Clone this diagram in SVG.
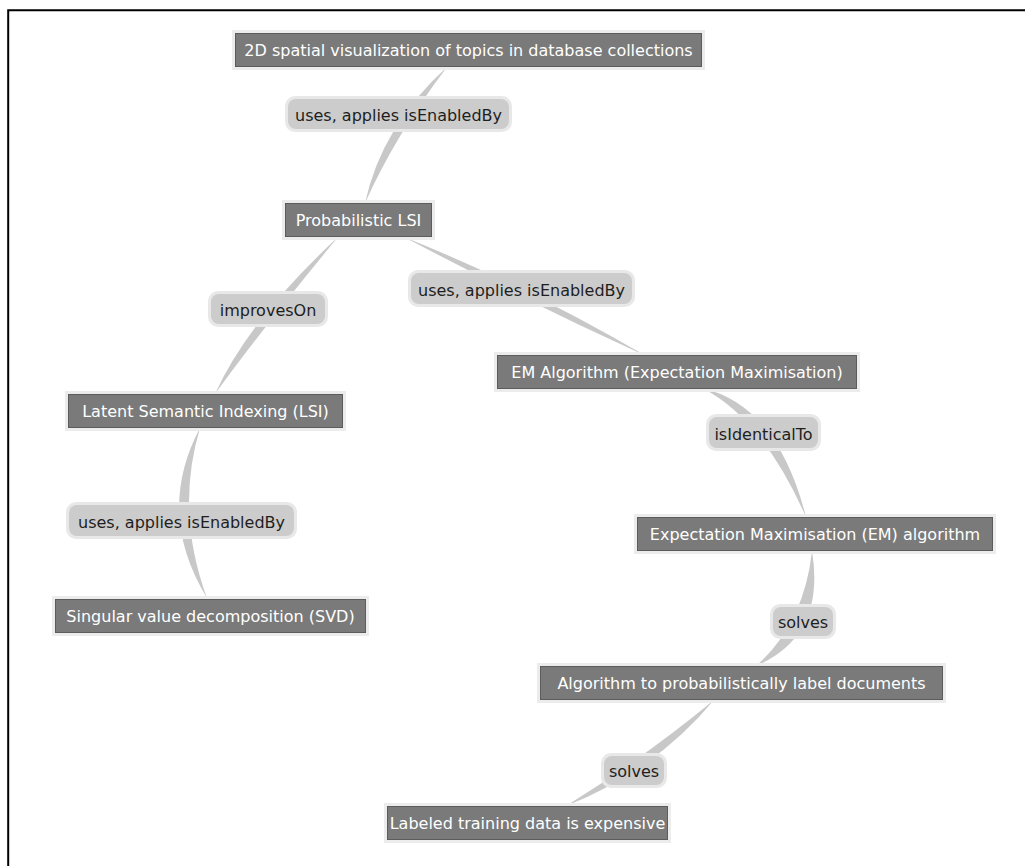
<svg xmlns="http://www.w3.org/2000/svg" width="1025" height="866" viewBox="0 0 1025 866">
  <style>
    .edge { fill: #c8c8c8; }
    .halo { fill: #ececec; }
    .box { fill: #7a7a7a; stroke: #5c5c5c; stroke-width: 1; }
    .ntext { fill: #ffffff; font-family: "DejaVu Sans", Verdana, sans-serif; font-size: 16px; text-anchor: middle; }
    .lhalo { fill: #e8e8e8; }
    .lbox { fill: #bcbcbc; fill-opacity: 0.62; }
    .ltext { fill: #1e1e1e; font-family: "DejaVu Sans", Verdana, sans-serif; font-size: 16px; text-anchor: middle; }
  </style>

  <rect width="1025" height="866" fill="#ffffff"/>
  <!-- frame: top and left rules only -->
  <path d="M8.2 866 V10.3 H1025" fill="none" stroke="#000" stroke-width="2"/>

  <!-- connectors: tapered lens-shaped bands -->
  <g id="connectors">
    <path class="edge" d="M447 67 Q382 125.8 365 203 Q396 134.2 447 67 Z"/>
    <path class="edge" d="M338 237 Q248.7 320 215 394 Q261.3 330 338 237 Z"/>
    <path class="edge" d="M200 428 Q155 512.5 207 598 Q175 511.5 200 428 Z"/>
    <path class="edge" d="M404 237 Q522 299.3 646 356 Q528 286.7 404 237 Z"/>
    <path class="edge" d="M702 388 Q762.2 418.3 806 517 Q777.8 405.7 702 388 Z"/>
    <path class="edge" d="M812 551 Q804 624 756 666 Q826 636 812 551 Z"/>
    <path class="edge" d="M714 700 Q645 757 566 806 Q655 771 714 700 Z"/>
  </g>

  <!-- connector labels -->
  <g id="label-uses-1">
    <rect class="lhalo" x="285" y="96" width="227" height="36" rx="10"/>
    <rect class="lbox" x="288" y="99" width="221" height="30" rx="8"/>
    <text class="ltext" x="398.5" y="121">uses, applies isEnabledBy</text>
  </g>
  <g id="label-improvesOn">
    <rect class="lhalo" x="208" y="291" width="120" height="36" rx="10"/>
    <rect class="lbox" x="211" y="294" width="114" height="30" rx="8"/>
    <text class="ltext" x="268" y="315.5">improvesOn</text>
  </g>
  <g id="label-uses-2">
    <rect class="lhalo" x="408" y="270" width="227" height="37" rx="10"/>
    <rect class="lbox" x="411" y="273" width="221" height="31" rx="8"/>
    <text class="ltext" x="521.5" y="295.5">uses, applies isEnabledBy</text>
  </g>
  <g id="label-uses-3">
    <rect class="lhalo" x="66" y="502" width="231" height="37" rx="10"/>
    <rect class="lbox" x="69" y="505" width="225" height="31" rx="8"/>
    <text class="ltext" x="181.5" y="528">uses, applies isEnabledBy</text>
  </g>
  <g id="label-isIdenticalTo">
    <rect class="lhalo" x="706" y="414" width="115" height="37" rx="10"/>
    <rect class="lbox" x="709" y="417" width="109" height="31" rx="8"/>
    <text class="ltext" x="763.5" y="439.5">isIdenticalTo</text>
  </g>
  <g id="label-solves-1">
    <rect class="lhalo" x="770" y="604" width="66" height="35" rx="10"/>
    <rect class="lbox" x="773" y="607" width="60" height="29" rx="8"/>
    <text class="ltext" x="803" y="628">solves</text>
  </g>
  <g id="label-solves-2">
    <rect class="lhalo" x="601" y="753" width="66" height="35" rx="10"/>
    <rect class="lbox" x="604" y="756" width="60" height="29" rx="8"/>
    <text class="ltext" x="634" y="777">solves</text>
  </g>

  <!-- nodes -->
  <g id="node-2d-visualization">
    <rect class="halo" x="232" y="30" width="473" height="40"/>
    <rect class="box" x="235.5" y="33.5" width="466" height="33"/>
    <text class="ntext" x="468.5" y="56">2D spatial visualization of topics in database collections</text>
  </g>
  <g id="node-plsi">
    <rect class="halo" x="282" y="200" width="153" height="40"/>
    <rect class="box" x="285.5" y="203.5" width="146" height="33"/>
    <text class="ntext" x="358.5" y="226">Probabilistic LSI</text>
  </g>
  <g id="node-lsi">
    <rect class="halo" x="65" y="391" width="281" height="40"/>
    <rect class="box" x="68.5" y="394.5" width="274" height="33"/>
    <text class="ntext" x="205.5" y="417">Latent Semantic Indexing (LSI)</text>
  </g>
  <g id="node-svd">
    <rect class="halo" x="52" y="596" width="317" height="40"/>
    <rect class="box" x="55.5" y="599.5" width="310" height="33"/>
    <text class="ntext" x="210.5" y="622">Singular value decomposition (SVD)</text>
  </g>
  <g id="node-em-algorithm">
    <rect class="halo" x="494" y="352" width="366" height="40"/>
    <rect class="box" x="497.5" y="355.5" width="359" height="33"/>
    <text class="ntext" x="677" y="378">EM Algorithm (Expectation Maximisation)</text>
  </g>
  <g id="node-expectation-maximisation">
    <rect class="halo" x="634" y="514" width="362" height="40"/>
    <rect class="box" x="637.5" y="517.5" width="355" height="33"/>
    <text class="ntext" x="815" y="540">Expectation Maximisation (EM) algorithm</text>
  </g>
  <g id="node-label-documents">
    <rect class="halo" x="537" y="663" width="409" height="40"/>
    <rect class="box" x="540.5" y="666.5" width="402" height="33"/>
    <text class="ntext" x="741.5" y="689">Algorithm to probabilistically label documents</text>
  </g>
  <g id="node-training-data">
    <rect class="halo" x="384" y="803" width="287" height="40"/>
    <rect class="box" x="387.5" y="806.5" width="280" height="33"/>
    <text class="ntext" x="527.5" y="829">Labeled training data is expensive</text>
  </g>
</svg>
